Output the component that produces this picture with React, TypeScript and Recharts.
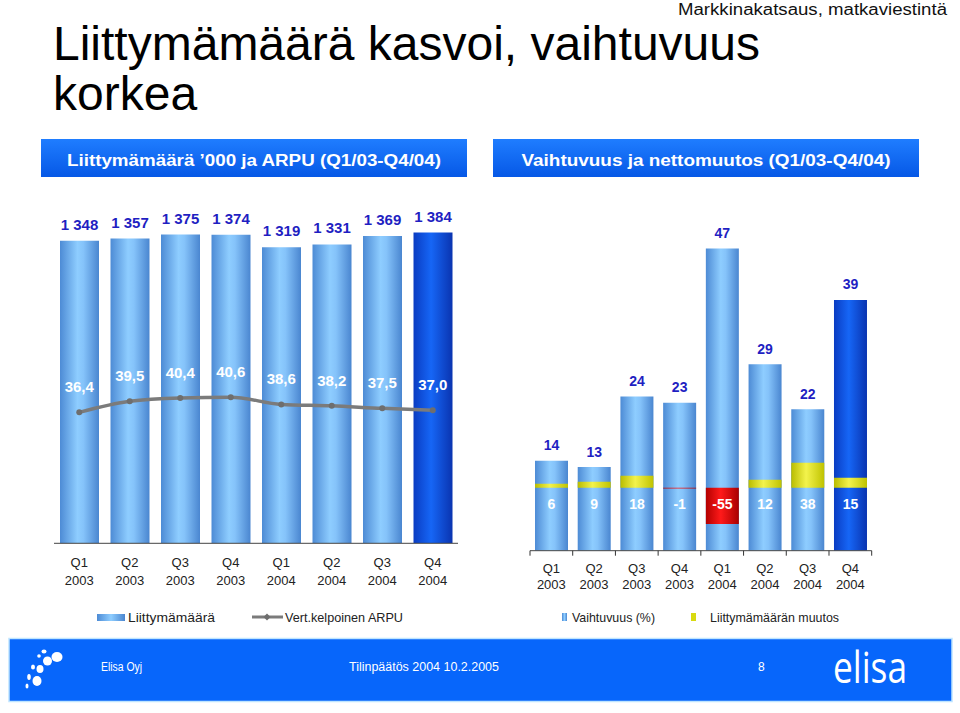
import React from 'react';
import { ComposedChart, Bar, Line, XAxis, YAxis, Cell, LabelList } from 'recharts';

const quarters = ['Q1', 'Q2', 'Q3', 'Q4', 'Q1', 'Q2', 'Q3', 'Q4'];
const years = ['2003', '2003', '2003', '2003', '2004', '2004', '2004', '2004'];
const subscriptions = [1348, 1357, 1375, 1374, 1319, 1331, 1369, 1384];
const arpu = [36.4, 39.5, 40.4, 40.6, 38.6, 38.2, 37.5, 37.0];
const churn = [14, 13, 24, 23, 47, 29, 22, 39];
const netChange = [6, 9, 18, -1, -55, 12, 38, 15];

const FONT = '"Liberation Sans", Arial, Helvetica, sans-serif';
const LABEL_BLUE = '#1f1fc2';
const RIGHT_BAND = 341.7 / 8;

const leftData = quarters.map((q, i) => ({
  cat: `${q}\n${years[i]}`,
  subscriptions: subscriptions[i],
  arpu: arpu[i],
}));
const rightData = quarters.map((q, i) => ({
  cat: `${q}\n${years[i]}`,
  churn: churn[i],
  net: netChange[i],
}));

const fmtThousands = (v: number) => String(v).replace(/\B(?=(\d{3})+(?!\d))/g, ' ');
const fmtDec = (v: number) => Number(v).toFixed(1).replace('.', ',');

function box(p: any) {
  const vb = p.viewBox || {};
  const x = vb.x ?? p.x ?? 0;
  const y = vb.y ?? p.y ?? 0;
  const width = vb.width ?? p.width ?? 0;
  const height = vb.height ?? p.height ?? 0;
  return { x, y, width, height };
}

function LeftTick(props: any) {
  const { x, y, payload } = props;
  const [q, yr] = String(payload.value).split('\n');
  return (
    <g>
      <text x={x} y={y + 23.5} textAnchor="middle" fontSize={13} fill="#222" fontFamily={FONT}>{q}</text>
      <text x={x} y={y + 42} textAnchor="middle" fontSize={13} fill="#222" fontFamily={FONT}>{yr}</text>
    </g>
  );
}

function RightTick(props: any) {
  const { x, y, payload, index } = props;
  const [q, yr] = String(payload.value).split('\n');
  const half = RIGHT_BAND / 2;
  return (
    <g>
      <line x1={x - half} x2={x - half} y1={y} y2={y + 5} stroke="#333" strokeWidth={1} />
      {index === quarters.length - 1 && (
        <line x1={x + half} x2={x + half} y1={y} y2={y + 5} stroke="#333" strokeWidth={1} />
      )}
      <text x={x} y={y + 22} textAnchor="middle" fontSize={13} fill="#222" fontFamily={FONT}>{q}</text>
      <text x={x} y={y + 38.5} textAnchor="middle" fontSize={13} fill="#222" fontFamily={FONT}>{yr}</text>
    </g>
  );
}

const SubLabel = (p: any) => {
  const { x, y, width, height } = box(p);
  const top = Math.min(y, y + height);
  return (
    <text x={x + width / 2} y={top - 11} textAnchor="middle" fill={LABEL_BLUE} fontSize={15} fontWeight="bold" fontFamily={FONT}>
      {fmtThousands(p.value)}
    </text>
  );
};

const ArpuLabel = (p: any) => {
  const { x, y } = box(p);
  return (
    <text x={x} y={y - 20} textAnchor="middle" fill="#ffffff" fontSize={15} fontWeight="bold" fontFamily={FONT}>
      {fmtDec(p.value)}
    </text>
  );
};

const ChurnLabel = (p: any) => {
  const { x, y, width, height } = box(p);
  const top = Math.min(y, y + height);
  return (
    <text x={x + width / 2} y={top - 10.5} textAnchor="middle" fill={LABEL_BLUE} fontSize={14} fontWeight="bold" fontFamily={FONT}>
      {p.value}
    </text>
  );
};

const NetLabel = (p: any) => {
  const { x, y, width, height } = box(p);
  const top = Math.min(y, y + height);
  const bottom = Math.max(y, y + height);
  const zero = p.value >= 0 ? bottom : top;
  return (
    <text x={x + width / 2} y={zero + 21} textAnchor="middle" fill="#ffffff" fontSize={14} fontWeight="bold" fontFamily={FONT}>
      {p.value}
    </text>
  );
};

function Gradients({ prefix }: { prefix: string }) {
  return (
    <defs>
      <linearGradient id={`${prefix}Light`} x1="0" y1="0" x2="1" y2="0">
        <stop offset="0%" stopColor="#4d8bd5" />
        <stop offset="45%" stopColor="#8ecdff" />
        <stop offset="60%" stopColor="#85c3fa" />
        <stop offset="100%" stopColor="#4a86d0" />
      </linearGradient>
      <linearGradient id={`${prefix}Dark`} x1="0" y1="0" x2="1" y2="0">
        <stop offset="0%" stopColor="#0a3cc2" />
        <stop offset="45%" stopColor="#1666f6" />
        <stop offset="100%" stopColor="#0a34b0" />
      </linearGradient>
      <linearGradient id={`${prefix}Yellow`} x1="0" y1="0" x2="1" y2="0">
        <stop offset="0%" stopColor="#b9bc00" />
        <stop offset="45%" stopColor="#f3f34c" />
        <stop offset="100%" stopColor="#bfc200" />
      </linearGradient>
      <linearGradient id={`${prefix}Red`} x1="0" y1="0" x2="1" y2="0">
        <stop offset="0%" stopColor="#b30000" />
        <stop offset="45%" stopColor="#ff1a1a" />
        <stop offset="100%" stopColor="#a80000" />
      </linearGradient>
    </defs>
  );
}

export default function App() {
  return (
    <div style={{ position: 'absolute', left: 0, top: 0, width: 960, height: 713, background: '#ffffff', overflow: 'hidden', fontFamily: FONT }}>
      <svg width={960} height={713} style={{ position: 'absolute', left: 0, top: 0 }}>
        <defs>
          <linearGradient id="hdr" x1="0" y1="0" x2="0" y2="1">
            <stop offset="0%" stopColor="#1f7dff" />
            <stop offset="100%" stopColor="#0658e6" />
          </linearGradient>
          <linearGradient id="legBar" x1="0" y1="0" x2="1" y2="0">
            <stop offset="0%" stopColor="#4d8bd5" />
            <stop offset="50%" stopColor="#8ecdff" />
            <stop offset="100%" stopColor="#4a86d0" />
          </linearGradient>
        </defs>
        <text x={947} y={15} textAnchor="end" fontSize={16} fill="#111" fontFamily={FONT} textLength={269} lengthAdjust="spacingAndGlyphs">
          Markkinakatsaus, matkaviestintä
        </text>
        <text x={53} y={60} fontSize={48} fill="#000" fontFamily={FONT}>Liittymämäärä kasvoi, vaihtuvuus</text>
        <text x={53} y={110} fontSize={48} fill="#000" fontFamily={FONT}>korkea</text>

        <rect x={41} y={139} width={426} height={38} fill="url(#hdr)" />
        <rect x={493} y={139} width={426} height={38} fill="url(#hdr)" />
        <text x={254} y={166} textAnchor="middle" fill="#fff" fontSize={16} fontWeight="bold" fontFamily={FONT} textLength={374} lengthAdjust="spacingAndGlyphs">
          Liittymämäärä ’000 ja ARPU (Q1/03-Q4/04)
        </text>
        <text x={706} y={166} textAnchor="middle" fill="#fff" fontSize={16} fontWeight="bold" fontFamily={FONT} textLength={369} lengthAdjust="spacingAndGlyphs">
          Vaihtuvuus ja nettomuutos (Q1/03-Q4/04)
        </text>

        {/* legend */}
        <rect x={97} y={614} width={28} height={7} fill="url(#legBar)" />
        <text x={128} y={622} fontSize={13} fill="#222" fontFamily={FONT} textLength={87} lengthAdjust="spacingAndGlyphs">Liittymämäärä</text>
        <line x1={252} x2={283} y1={617} y2={617} stroke="#7b7b7b" strokeWidth={3} />
        <path d="M267 613.5 L270.5 617 L267 620.5 L263.5 617 Z" fill="#6e6e6e" />
        <text x={285} y={622} fontSize={13} fill="#222" fontFamily={FONT} textLength={118} lengthAdjust="spacingAndGlyphs">Vert.kelpoinen ARPU</text>
        <rect x={562} y={613} width={5} height={8} fill="url(#legBar)" />
        <text x={572} y={622} fontSize={13} fill="#222" fontFamily={FONT} textLength={83} lengthAdjust="spacingAndGlyphs">Vaihtuvuus (%)</text>
        <rect x={691} y={613} width={5} height={8} fill="#d8da10" />
        <text x={710} y={622} fontSize={13} fill="#222" fontFamily={FONT} textLength={129} lengthAdjust="spacingAndGlyphs">Liittymämäärän muutos</text>

        {/* footer */}
        <rect x={9} y={638.5} width={943} height={63} fill="#0766fb" stroke="#bfe5ff" strokeWidth={1.5} />
        <g fill="#ffffff">
          <ellipse cx={57} cy={657} rx={5.5} ry={5} />
          <ellipse cx={47.5} cy={661} rx={4.5} ry={4.5} />
          <ellipse cx={44} cy={651.5} rx={2.5} ry={2} />
          <ellipse cx={39} cy={656} rx={1.8} ry={1.8} />
          <ellipse cx={40} cy={669} rx={3.5} ry={4} />
          <ellipse cx={33} cy={667} rx={2} ry={2.5} />
          <ellipse cx={37} cy={681} rx={4.5} ry={5} />
          <ellipse cx={29} cy={677} rx={1.8} ry={3} />
          <ellipse cx={27} cy={686} rx={1.5} ry={2.5} />
        </g>
        <text x={101} y={671} fontSize={12} fill="#fff" fontFamily={FONT} textLength={41} lengthAdjust="spacingAndGlyphs">Elisa Oyj</text>
        <text x={349} y={671} fontSize={12} fill="#fff" fontFamily={FONT} textLength={150} lengthAdjust="spacingAndGlyphs">Tilinpäätös 2004 10.2.2005</text>
        <text x={758} y={671} fontSize={12} fill="#fff" fontFamily={FONT}>8</text>
        <text x={833} y={683} fontSize={44} fill="#fff" fontFamily={'"Open Sans", Lato, sans-serif'} textLength={74} lengthAdjust="spacingAndGlyphs">elisa</text>
      </svg>

      <div style={{ position: 'absolute', left: 0, top: 180 }}>
        <ComposedChart width={470} height={420} data={leftData} margin={{ top: 26.5, right: 12, left: 54, bottom: 6.7 }}>
          <Gradients prefix="l" />
          <XAxis
            dataKey="cat"
            interval={0}
            tickSize={0}
            tickMargin={0}
            tickLine={false}
            axisLine={{ stroke: '#444', strokeWidth: 1 }}
            tick={<LeftTick />}
            height={50}
          />
          <YAxis yAxisId="sub" hide domain={[0, 1500]} allowDataOverflow />
          <YAxis yAxisId="arpu" hide orientation="right" domain={[0, 93.6]} allowDataOverflow />
          <Bar yAxisId="sub" dataKey="subscriptions" barSize={39} isAnimationActive={false}>
            {leftData.map((d, i) => (
              <Cell key={i} fill={i === leftData.length - 1 ? 'url(#lDark)' : 'url(#lLight)'} />
            ))}
            <LabelList dataKey="subscriptions" content={SubLabel} />
          </Bar>
          <Line
            yAxisId="arpu"
            type="monotone"
            dataKey="arpu"
            stroke="#7b7b7b"
            strokeWidth={3.5}
            dot={{ r: 3, fill: '#6e6e6e', stroke: 'none' }}
            activeDot={false}
            isAnimationActive={false}
          >
            <LabelList dataKey="arpu" content={ArpuLabel} />
          </Line>
        </ComposedChart>
      </div>

      <div style={{ position: 'absolute', left: 480, top: 180 }}>
        <ComposedChart width={410} height={425} data={rightData} barGap={-33} margin={{ top: 49.2, right: 18.3, left: 50, bottom: 4.3 }}>
          <Gradients prefix="r" />
          <XAxis
            dataKey="cat"
            interval={0}
            tickSize={0}
            tickMargin={0}
            tickLine={false}
            axisLine={{ stroke: '#444', strokeWidth: 1 }}
            tick={<RightTick />}
            height={50}
          />
          <YAxis yAxisId="churn" hide domain={[0, 50]} allowDataOverflow />
          <YAxis yAxisId="net" hide orientation="right" domain={[-95.5, 392]} allowDataOverflow />
          <Bar yAxisId="churn" dataKey="churn" barSize={33} isAnimationActive={false}>
            {rightData.map((d, i) => (
              <Cell key={i} fill={i === rightData.length - 1 ? 'url(#rDark)' : 'url(#rLight)'} />
            ))}
            <LabelList dataKey="churn" content={ChurnLabel} />
          </Bar>
          <Bar yAxisId="net" dataKey="net" barSize={33} isAnimationActive={false}>
            {rightData.map((d, i) => (
              <Cell key={i} fill={d.net < 0 ? 'url(#rRed)' : 'url(#rYellow)'} />
            ))}
            <LabelList dataKey="net" content={NetLabel} />
          </Bar>
        </ComposedChart>
      </div>
    </div>
  );
}
